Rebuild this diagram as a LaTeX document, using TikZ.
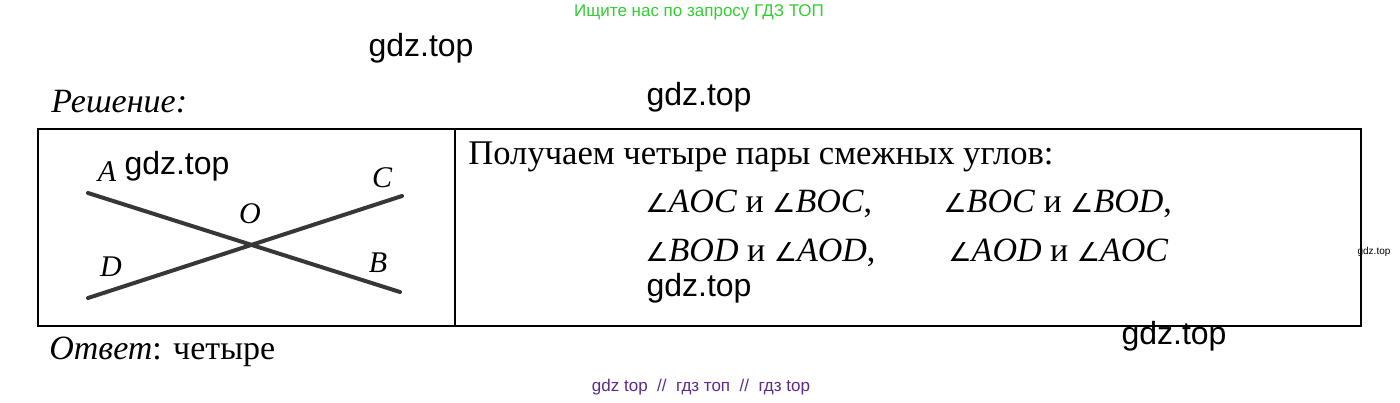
\documentclass[tikz,border=0pt]{standalone}
\usepackage{fontspec}
\setmainfont{Liberation Serif}
\newfontfamily\wmfont{Liberation Sans}
\newfontfamily\angfont{DejaVu Sans}
\definecolor{wmgreen}{RGB}{51,204,51}
\definecolor{wmpurple}{RGB}{92,42,140}
\definecolor{linegray}{RGB}{55,55,55}
\newcommand{\ang}{{\angfont\fontsize{13pt}{15pt}\selectfont\char"2220}}
\begin{document}
\begin{tikzpicture}[x=0.5pt,y=-0.5pt,
  wm/.style={inner sep=0pt,font=\wmfont\fontsize{16pt}{18pt}\selectfont},
  lbl/.style={inner sep=0pt,font=\fontsize{15pt}{17pt}\selectfont\itshape},
  maintext/.style={inner sep=0pt,anchor=base west,font=\fontsize{17.3pt}{20pt}\selectfont},
  mathtext/.style={inner sep=0pt,anchor=base west,font=\fontsize{17pt}{20pt}\selectfont},
  frame/.style={line width=1pt},
  divider/.style={line width=0.6pt},
  ray/.style={line width=2pt,draw=linegray,line cap=round}]
\useasboundingbox (0,0) rectangle (1400,402);
% watermarks
\node[inner sep=0pt,text=wmgreen,font=\wmfont\fontsize{8.5pt}{10pt}\selectfont] (wtop) at (699,12) {Ищите нас по запросу ГДЗ ТОП};
\node[wm] (w1) at (421,48) {gdz.top};
\node[wm] (w2) at (699,97) {gdz.top};
% headings
\node[maintext,font=\fontsize{17pt}{20pt}\selectfont\itshape] (resh) at (51,112) {Решение:};
% frame
\coordinate (tl) at (38,129);
\coordinate (br) at (1361,326);
\coordinate (dt) at (455,129);
\coordinate (db) at (455,326);
\draw[frame] (tl) rectangle (br);
\draw[divider] (dt) -- (db);
% figure
\coordinate (pA) at (88,193);
\coordinate (pB) at (400,292);
\coordinate (pD) at (88,298);
\coordinate (pC) at (402,196);
\draw[ray] (pA) -- (pB);
\draw[ray] (pD) -- (pC);
\node[lbl] (lA) at (107,172) {A};
\node[lbl] (lC) at (382,178) {C};
\node[lbl] (lO) at (250,214) {O};
\node[lbl] (lD) at (111,267) {D};
\node[lbl] (lB) at (378,263) {B};
\node[wm] (w3) at (177,166) {gdz.top};
% text
\node[maintext] (t1) at (468,164) {Получаем четыре пары смежных углов:};
\node[mathtext] (m1) at (645,212) {\ang\textit{AOC} и \ang\textit{BOC},};
\node[mathtext] (m2) at (943,212) {\ang\textit{BOC} и \ang\textit{BOD},};
\node[mathtext] (m3) at (645,261) {\ang\textit{BOD} и \ang\textit{AOD},};
\node[mathtext] (m4) at (948,261) {\ang\textit{AOD} и \ang\textit{AOC}};
\node[wm] (w4) at (699,288) {gdz.top};
\node[inner sep=0pt,font=\wmfont\fontsize{5pt}{6pt}\selectfont] (w5) at (1374,252) {gdz.top};
\node[wm] (w6) at (1174,336) {gdz.top};
% answer
\node[maintext,font=\fontsize{17pt}{20pt}\selectfont] (otv) at (49,359) {\textit{Ответ}: четыре};
\node[inner sep=0pt,text=wmpurple,font=\wmfont\fontsize{8.5pt}{10pt}\selectfont] (wbot) at (701,387) {gdz top\ \ //\ \ гдз топ\ \ //\ \ гдз top};
\end{tikzpicture}
\end{document}
